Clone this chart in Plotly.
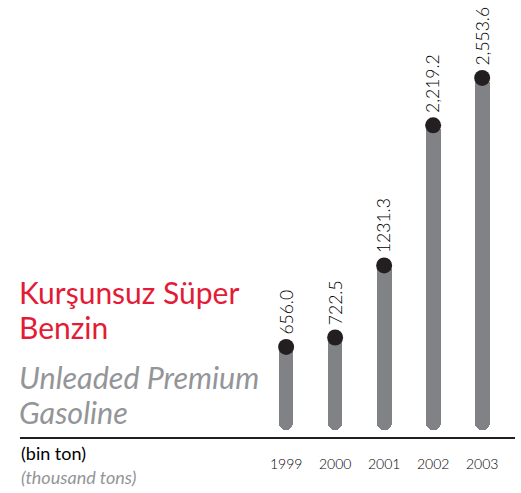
import plotly.graph_objects as go

years = ["1999", "2000", "2001", "2002", "2003"]
values = [656.0, 722.5, 1231.3, 2219.2, 2553.6]
value_labels = ["656.0", "722.5", "1231.3", "2,219.2", "2,553.6"]

BAR_BOTTOM = 70  # value where the rounded bar end sits (style constant)

BAR_GREY = "#808285"
DOT = "#231f20"
RED = "#e31b36"
SOFT_GREY = "#939598"
FONT = "Lato"

fig = go.Figure()

fig.add_trace(go.Bar(
    x=years,
    y=[BAR_BOTTOM - v for v in values],
    base=values,
    width=0.3,
    marker=dict(color=BAR_GREY, cornerradius=8, line=dict(width=0)),
    hoverinfo="skip",
))

fig.add_trace(go.Scatter(
    x=years, y=values, mode="markers",
    marker=dict(color=DOT, size=16),
    hoverinfo="skip",
))

for i, (v, lab) in enumerate(zip(values, value_labels)):
    fig.add_annotation(
        xref="x", yref="y",
        x=i, y=v, text=lab, textangle=-90, showarrow=False,
        xanchor="center", yanchor="bottom", yshift=10,
        font=dict(family=FONT, size=17.5, color="#000000", weight=300),
    )


def txt(text, xpx, ypx, size, color, italic=False, weight=400):
    fig.add_annotation(
        xref="paper", yref="paper",
        x=(xpx - 20) / 495, y=(437 - ypx) / 437,
        text=text, showarrow=False, xanchor="left", yanchor="middle",
        font=dict(family=FONT, size=size, color=color,
                  style="italic" if italic else "normal", weight=weight),
    )


txt("Kurşunsuz Süper", 17, 292, 30, RED)
txt("Benzin", 17, 327, 30, RED)
txt("Unleaded Premium", 17, 377, 30.5, SOFT_GREY, italic=True)
txt("Gasoline", 17, 412, 30.5, SOFT_GREY, italic=True)
txt("(bin ton)", 19, 453, 18, "#000000")
txt("(thousand tons)", 19, 477, 18, SOFT_GREY, italic=True)

fig.update_layout(
    width=521, height=493,
    margin=dict(l=20, r=6, t=0, b=56),
    paper_bgcolor="white", plot_bgcolor="white",
    showlegend=False,
    bargap=0,
    xaxis=dict(
        type="category", range=[-5.43, 4.67],
        showgrid=False, zeroline=False,
        showline=True, linecolor="#231f20", linewidth=1.5,
        ticks="", ticklabelstandoff=13,
        tickfont=dict(family=FONT, size=14, color="#000000", weight=300),
        fixedrange=True,
    ),
    yaxis=dict(
        range=[21, 3103], visible=False, fixedrange=True,
    ),
)

fig.write_html("out.html", config={"displayModeBar": False},
               post_script="document.body.style.margin='0';")
